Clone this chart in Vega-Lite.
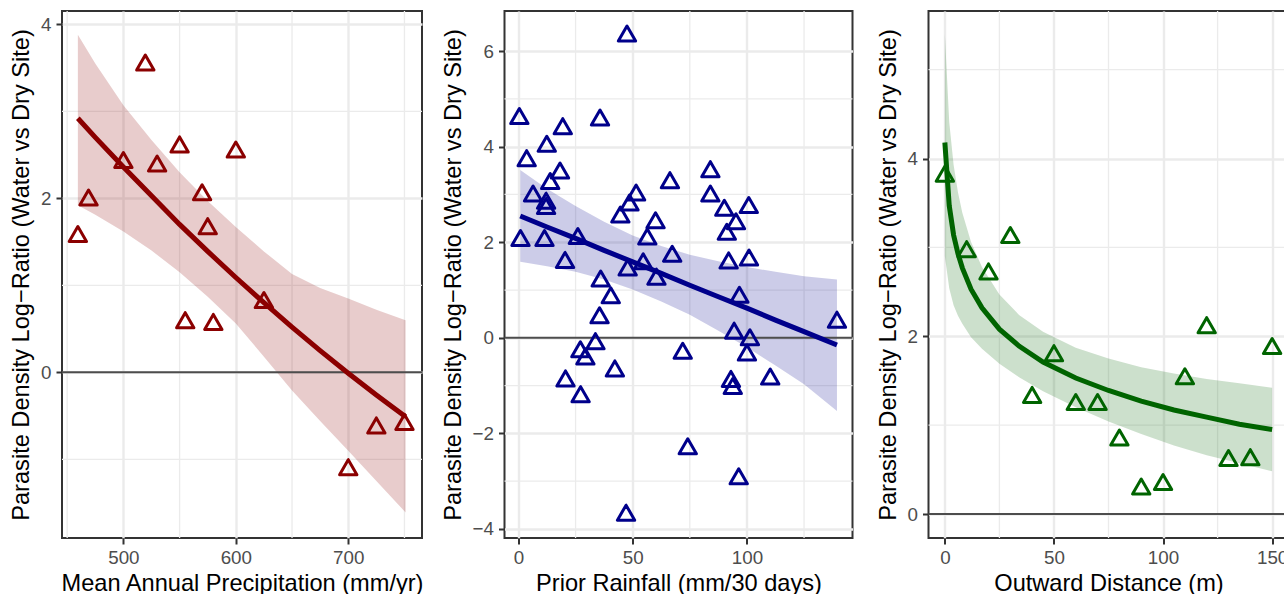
{
  "$schema": "https://vega.github.io/schema/vega-lite/v6.json",
  "background": "white",
  "padding": {"left": 8, "top": 9, "right": 5, "bottom": 0},
  "spacing": 19.5,
  "datasets": {
    "zero": [{"v": 0}],
    "p1gx": [{"v": 450}, {"v": 550}, {"v": 650}, {"v": 750}],
    "p1gy": [{"v": -1}, {"v": 1}, {"v": 3}],
    "p2gx": [{"v": 25}, {"v": 75}, {"v": 125}],
    "p2gy": [{"v": -3}, {"v": -1}, {"v": 1}, {"v": 3}, {"v": 5}],
    "p3gx": [{"v": 25}, {"v": 75}, {"v": 125}],
    "p3gy": [{"v": 1}, {"v": 3}, {"v": 5}],
    "p1pts": [
      {"x": 459.5, "y": 1.59}, {"x": 469, "y": 2.01}, {"x": 500, "y": 2.44}, {"x": 519.5, "y": 3.56},
      {"x": 530, "y": 2.40}, {"x": 550, "y": 2.62}, {"x": 555, "y": 0.60}, {"x": 570, "y": 2.07},
      {"x": 575, "y": 1.68}, {"x": 580, "y": 0.58}, {"x": 600, "y": 2.56}, {"x": 625, "y": 0.83},
      {"x": 700, "y": -1.09}, {"x": 725, "y": -0.61}, {"x": 750, "y": -0.57}
    ],
    "p1fit": [
      {"x": 459.5, "fit": 2.92, "lo": 1.92, "hi": 3.88},
      {"x": 475, "fit": 2.70, "lo": 1.81, "hi": 3.55},
      {"x": 500, "fit": 2.36, "lo": 1.62, "hi": 3.07},
      {"x": 525, "fit": 2.03, "lo": 1.40, "hi": 2.67},
      {"x": 550, "fit": 1.70, "lo": 1.15, "hi": 2.30},
      {"x": 575, "fit": 1.39, "lo": 0.87, "hi": 1.97},
      {"x": 600, "fit": 1.09, "lo": 0.56, "hi": 1.67},
      {"x": 625, "fit": 0.80, "lo": 0.18, "hi": 1.39},
      {"x": 650, "fit": 0.52, "lo": -0.21, "hi": 1.13},
      {"x": 675, "fit": 0.25, "lo": -0.56, "hi": 0.97},
      {"x": 700, "fit": -0.01, "lo": -0.90, "hi": 0.85},
      {"x": 725, "fit": -0.26, "lo": -1.25, "hi": 0.72},
      {"x": 751, "fit": -0.51, "lo": -1.61, "hi": 0.60}
    ],
    "p2pts": [
      {"x": 0.4, "y": 4.64}, {"x": 3.6, "y": 3.76}, {"x": 0.9, "y": 2.09}, {"x": 6.4, "y": 3.02},
      {"x": 12.4, "y": 4.06}, {"x": 19.4, "y": 4.43}, {"x": 13.9, "y": 3.28}, {"x": 18.2, "y": 3.50},
      {"x": 12.1, "y": 2.87}, {"x": 12.1, "y": 2.76}, {"x": 11.4, "y": 2.09}, {"x": 20.4, "y": 1.63},
      {"x": 26.0, "y": 2.13}, {"x": 35.7, "y": 4.61}, {"x": 47.5, "y": 6.37}, {"x": 44.6, "y": 2.58},
      {"x": 48.6, "y": 2.83}, {"x": 51.5, "y": 3.04}, {"x": 47.8, "y": 1.47}, {"x": 54.6, "y": 1.60},
      {"x": 56.4, "y": 2.12}, {"x": 60.0, "y": 2.46}, {"x": 60.4, "y": 1.28}, {"x": 66.3, "y": 3.30},
      {"x": 67.3, "y": 1.76}, {"x": 36.0, "y": 1.24}, {"x": 40.4, "y": 0.89}, {"x": 35.5, "y": 0.47},
      {"x": 33.7, "y": -0.07}, {"x": 27.1, "y": -0.24}, {"x": 29.3, "y": -0.39}, {"x": 20.6, "y": -0.85},
      {"x": 27.2, "y": -1.18}, {"x": 42.2, "y": -0.64}, {"x": 47.1, "y": -3.66}, {"x": 71.9, "y": -0.27},
      {"x": 74.1, "y": -2.27}, {"x": 84.0, "y": 3.53}, {"x": 84.0, "y": 3.02}, {"x": 90.1, "y": 2.72},
      {"x": 95.2, "y": 2.44}, {"x": 91.2, "y": 2.22}, {"x": 100.8, "y": 2.78}, {"x": 92.0, "y": 1.62},
      {"x": 100.9, "y": 1.68}, {"x": 96.7, "y": 0.90}, {"x": 94.4, "y": 0.15}, {"x": 101.3, "y": 0.01},
      {"x": 100.0, "y": -0.31}, {"x": 93.0, "y": -0.86}, {"x": 93.8, "y": -1.01}, {"x": 110.2, "y": -0.81},
      {"x": 96.4, "y": -2.90}, {"x": 139.4, "y": 0.38}
    ],
    "p2fit": [
      {"x": 0.8, "fit": 2.55, "lo": 1.59, "hi": 3.51},
      {"x": 12.5, "fit": 2.32, "lo": 1.50, "hi": 3.12},
      {"x": 25, "fit": 2.08, "lo": 1.38, "hi": 2.76},
      {"x": 37.5, "fit": 1.83, "lo": 1.22, "hi": 2.43},
      {"x": 50, "fit": 1.59, "lo": 1.01, "hi": 2.14},
      {"x": 62.5, "fit": 1.35, "lo": 0.76, "hi": 1.92},
      {"x": 75, "fit": 1.10, "lo": 0.48, "hi": 1.74},
      {"x": 87.5, "fit": 0.86, "lo": 0.15, "hi": 1.60},
      {"x": 100, "fit": 0.62, "lo": -0.20, "hi": 1.48},
      {"x": 112.5, "fit": 0.37, "lo": -0.58, "hi": 1.38},
      {"x": 125, "fit": 0.13, "lo": -0.97, "hi": 1.29},
      {"x": 139.4, "fit": -0.15, "lo": -1.53, "hi": 1.22}
    ],
    "p3pts": [
      {"x": 0, "y": 3.83}, {"x": 10, "y": 2.98}, {"x": 20, "y": 2.73}, {"x": 30, "y": 3.14},
      {"x": 40, "y": 1.34}, {"x": 50, "y": 1.81}, {"x": 60, "y": 1.26}, {"x": 70, "y": 1.26},
      {"x": 80, "y": 0.86}, {"x": 90, "y": 0.31}, {"x": 100, "y": 0.36}, {"x": 110, "y": 1.55},
      {"x": 120, "y": 2.125}, {"x": 130, "y": 0.63}, {"x": 140, "y": 0.64}, {"x": 150, "y": 1.89}
    ],
    "p3fit": [
      {"x": 0, "fit": 4.18, "lo": 2.90, "hi": 5.40},
      {"x": 2, "fit": 3.47, "lo": 2.54, "hi": 4.41},
      {"x": 4, "fit": 3.14, "lo": 2.35, "hi": 3.93},
      {"x": 6, "fit": 2.93, "lo": 2.23, "hi": 3.62},
      {"x": 8, "fit": 2.77, "lo": 2.14, "hi": 3.39},
      {"x": 12, "fit": 2.53, "lo": 1.99, "hi": 3.06},
      {"x": 17, "fit": 2.32, "lo": 1.86, "hi": 2.78},
      {"x": 25, "fit": 2.08, "lo": 1.69, "hi": 2.47},
      {"x": 34, "fit": 1.89, "lo": 1.54, "hi": 2.24},
      {"x": 45, "fit": 1.71, "lo": 1.38, "hi": 2.05},
      {"x": 60, "fit": 1.53, "lo": 1.20, "hi": 1.87},
      {"x": 75, "fit": 1.39, "lo": 1.04, "hi": 1.75},
      {"x": 90, "fit": 1.27, "lo": 0.90, "hi": 1.65},
      {"x": 105, "fit": 1.17, "lo": 0.77, "hi": 1.58},
      {"x": 120, "fit": 1.09, "lo": 0.66, "hi": 1.52},
      {"x": 135, "fit": 1.01, "lo": 0.57, "hi": 1.47},
      {"x": 150, "fit": 0.95, "lo": 0.48, "hi": 1.42}
    ]
  },
  "hconcat": [
    {
      "spacing": 14.5,
      "hconcat": [
        {
          "width": 360,
          "height": 527,
          "layer": [
            {"data": {"name": "p1gx"}, "mark": {"type": "rule", "color": "#EBEBEB", "strokeWidth": 1.3},
             "encoding": {"x": {"field": "v", "type": "quantitative", "scale": {"domain": [445.4, 765.6], "nice": false, "zero": false}}}},
            {"data": {"name": "p1gy"}, "mark": {"type": "rule", "color": "#EBEBEB", "strokeWidth": 1.3},
             "encoding": {"y": {"field": "v", "type": "quantitative", "scale": {"domain": [-1.904, 4.153], "nice": false, "zero": false}}}},
            {"data": {"name": "p1fit"}, "mark": {"type": "area", "fill": "#8B0000", "fillOpacity": 0.2},
             "encoding": {
               "x": {"field": "x", "type": "quantitative", "scale": {"domain": [445.4, 765.6], "nice": false, "zero": false}},
               "y": {"field": "lo", "type": "quantitative", "scale": {"domain": [-1.904, 4.153], "nice": false, "zero": false}},
               "y2": {"field": "hi"}}},
            {"data": {"name": "zero"}, "mark": {"type": "rule", "color": "#4D4D4D", "strokeWidth": 2},
             "encoding": {"y": {"field": "v", "type": "quantitative", "scale": {"domain": [-1.904, 4.153], "nice": false, "zero": false}}}},
            {"data": {"name": "p1fit"}, "mark": {"type": "line", "color": "#8B0000", "strokeWidth": 5},
             "encoding": {
               "x": {"field": "x", "type": "quantitative", "scale": {"domain": [445.4, 765.6], "nice": false, "zero": false}},
               "y": {"field": "fit", "type": "quantitative", "scale": {"domain": [-1.904, 4.153], "nice": false, "zero": false}}}},
            {"data": {"name": "p1pts"}, "mark": {"type": "point", "shape": "triangle-up", "filled": false, "color": "#8B0000", "strokeWidth": 3, "size": 300, "strokeJoin": "round", "opacity": 1},
             "encoding": {
               "x": {"field": "x", "type": "quantitative", "scale": {"domain": [445.4, 765.6], "nice": false, "zero": false},
                     "axis": {"title": "Mean Annual Precipitation (mm/yr)", "values": [500, 600, 700], "format": "d"}},
               "y": {"field": "y", "type": "quantitative", "scale": {"domain": [-1.904, 4.153], "nice": false, "zero": false},
                     "axis": {"title": "Parasite Density Log−Ratio (Water vs Dry Site)", "values": [0, 2, 4], "format": "d"}}}}
          ]
        },
        {
          "width": 348,
          "height": 527,
          "layer": [
            {"data": {"name": "p2gx"}, "mark": {"type": "rule", "color": "#EBEBEB", "strokeWidth": 1.3},
             "encoding": {"x": {"field": "v", "type": "quantitative", "scale": {"domain": [-6.1, 146.2], "nice": false, "zero": false}}}},
            {"data": {"name": "p2gy"}, "mark": {"type": "rule", "color": "#EBEBEB", "strokeWidth": 1.3},
             "encoding": {"y": {"field": "v", "type": "quantitative", "scale": {"domain": [-4.19, 6.84], "nice": false, "zero": false}}}},
            {"data": {"name": "p2fit"}, "mark": {"type": "area", "fill": "#00008B", "fillOpacity": 0.2},
             "encoding": {
               "x": {"field": "x", "type": "quantitative", "scale": {"domain": [-6.1, 146.2], "nice": false, "zero": false}},
               "y": {"field": "lo", "type": "quantitative", "scale": {"domain": [-4.19, 6.84], "nice": false, "zero": false}},
               "y2": {"field": "hi"}}},
            {"data": {"name": "zero"}, "mark": {"type": "rule", "color": "#4D4D4D", "strokeWidth": 2},
             "encoding": {"y": {"field": "v", "type": "quantitative", "scale": {"domain": [-4.19, 6.84], "nice": false, "zero": false}}}},
            {"data": {"name": "p2fit"}, "mark": {"type": "line", "color": "#00008B", "strokeWidth": 5},
             "encoding": {
               "x": {"field": "x", "type": "quantitative", "scale": {"domain": [-6.1, 146.2], "nice": false, "zero": false}},
               "y": {"field": "fit", "type": "quantitative", "scale": {"domain": [-4.19, 6.84], "nice": false, "zero": false}}}},
            {"data": {"name": "p2pts"}, "mark": {"type": "point", "shape": "triangle-up", "filled": false, "color": "#00008B", "strokeWidth": 3, "size": 300, "strokeJoin": "round", "opacity": 1},
             "encoding": {
               "x": {"field": "x", "type": "quantitative", "scale": {"domain": [-6.1, 146.2], "nice": false, "zero": false},
                     "axis": {"title": "Prior Rainfall (mm/30 days)", "values": [0, 50, 100], "format": "d"}},
               "y": {"field": "y", "type": "quantitative", "scale": {"domain": [-4.19, 6.84], "nice": false, "zero": false},
                     "axis": {"title": "Parasite Density Log−Ratio (Water vs Dry Site)", "values": [-4, -2, 0, 2, 4, 6], "format": "d"}}}}
          ]
        }
      ]
    },
    {
      "width": 360,
      "height": 527,
      "layer": [
        {"data": {"name": "p3gx"}, "mark": {"type": "rule", "color": "#EBEBEB", "strokeWidth": 1.3},
         "encoding": {"x": {"field": "v", "type": "quantitative", "scale": {"domain": [-7.5, 157.5], "nice": false, "zero": false}}}},
        {"data": {"name": "p3gy"}, "mark": {"type": "rule", "color": "#EBEBEB", "strokeWidth": 1.3},
         "encoding": {"y": {"field": "v", "type": "quantitative", "scale": {"domain": [-0.27, 5.66], "nice": false, "zero": false}}}},
        {"data": {"name": "p3fit"}, "mark": {"type": "area", "fill": "#006400", "fillOpacity": 0.2},
         "encoding": {
           "x": {"field": "x", "type": "quantitative", "scale": {"domain": [-7.5, 157.5], "nice": false, "zero": false}},
           "y": {"field": "lo", "type": "quantitative", "scale": {"domain": [-0.27, 5.66], "nice": false, "zero": false}},
           "y2": {"field": "hi"}}},
        {"data": {"name": "zero"}, "mark": {"type": "rule", "color": "#4D4D4D", "strokeWidth": 2},
         "encoding": {"y": {"field": "v", "type": "quantitative", "scale": {"domain": [-0.27, 5.66], "nice": false, "zero": false}}}},
        {"data": {"name": "p3fit"}, "mark": {"type": "line", "color": "#006400", "strokeWidth": 5},
         "encoding": {
           "x": {"field": "x", "type": "quantitative", "scale": {"domain": [-7.5, 157.5], "nice": false, "zero": false}},
           "y": {"field": "fit", "type": "quantitative", "scale": {"domain": [-0.27, 5.66], "nice": false, "zero": false}}}},
        {"data": {"name": "p3pts"}, "mark": {"type": "point", "shape": "triangle-up", "filled": false, "color": "#006400", "strokeWidth": 3, "size": 300, "strokeJoin": "round", "opacity": 1},
         "encoding": {
           "x": {"field": "x", "type": "quantitative", "scale": {"domain": [-7.5, 157.5], "nice": false, "zero": false},
                 "axis": {"title": "Outward Distance (m)", "values": [0, 50, 100, 150], "format": "d"}},
           "y": {"field": "y", "type": "quantitative", "scale": {"domain": [-0.27, 5.66], "nice": false, "zero": false},
                 "axis": {"title": "Parasite Density Log−Ratio (Water vs Dry Site)", "values": [0, 2, 4], "format": "d"}}}}
      ]
    }
  ],
  "config": {
    "font": "Liberation Sans",
    "view": {"stroke": "#333333", "strokeWidth": 2},
    "axis": {
      "domain": false, "grid": true, "gridColor": "#EBEBEB", "gridWidth": 2.4,
      "tickColor": "#333333", "tickWidth": 2, "tickSize": 6,
      "labelFont": "Liberation Sans", "labelFontSize": 18.8, "labelColor": "#4D4D4D",
      "labelFlush": false, "labelOverlap": false,
      "titleFont": "Liberation Sans", "titleFontSize": 23.6, "titleFontWeight": "normal", "titleColor": "#000000"
    },
    "axisX": {"labelPadding": 4, "titlePadding": 5},
    "axisY": {"labelPadding": 5, "titlePadding": 7}
  }
}
